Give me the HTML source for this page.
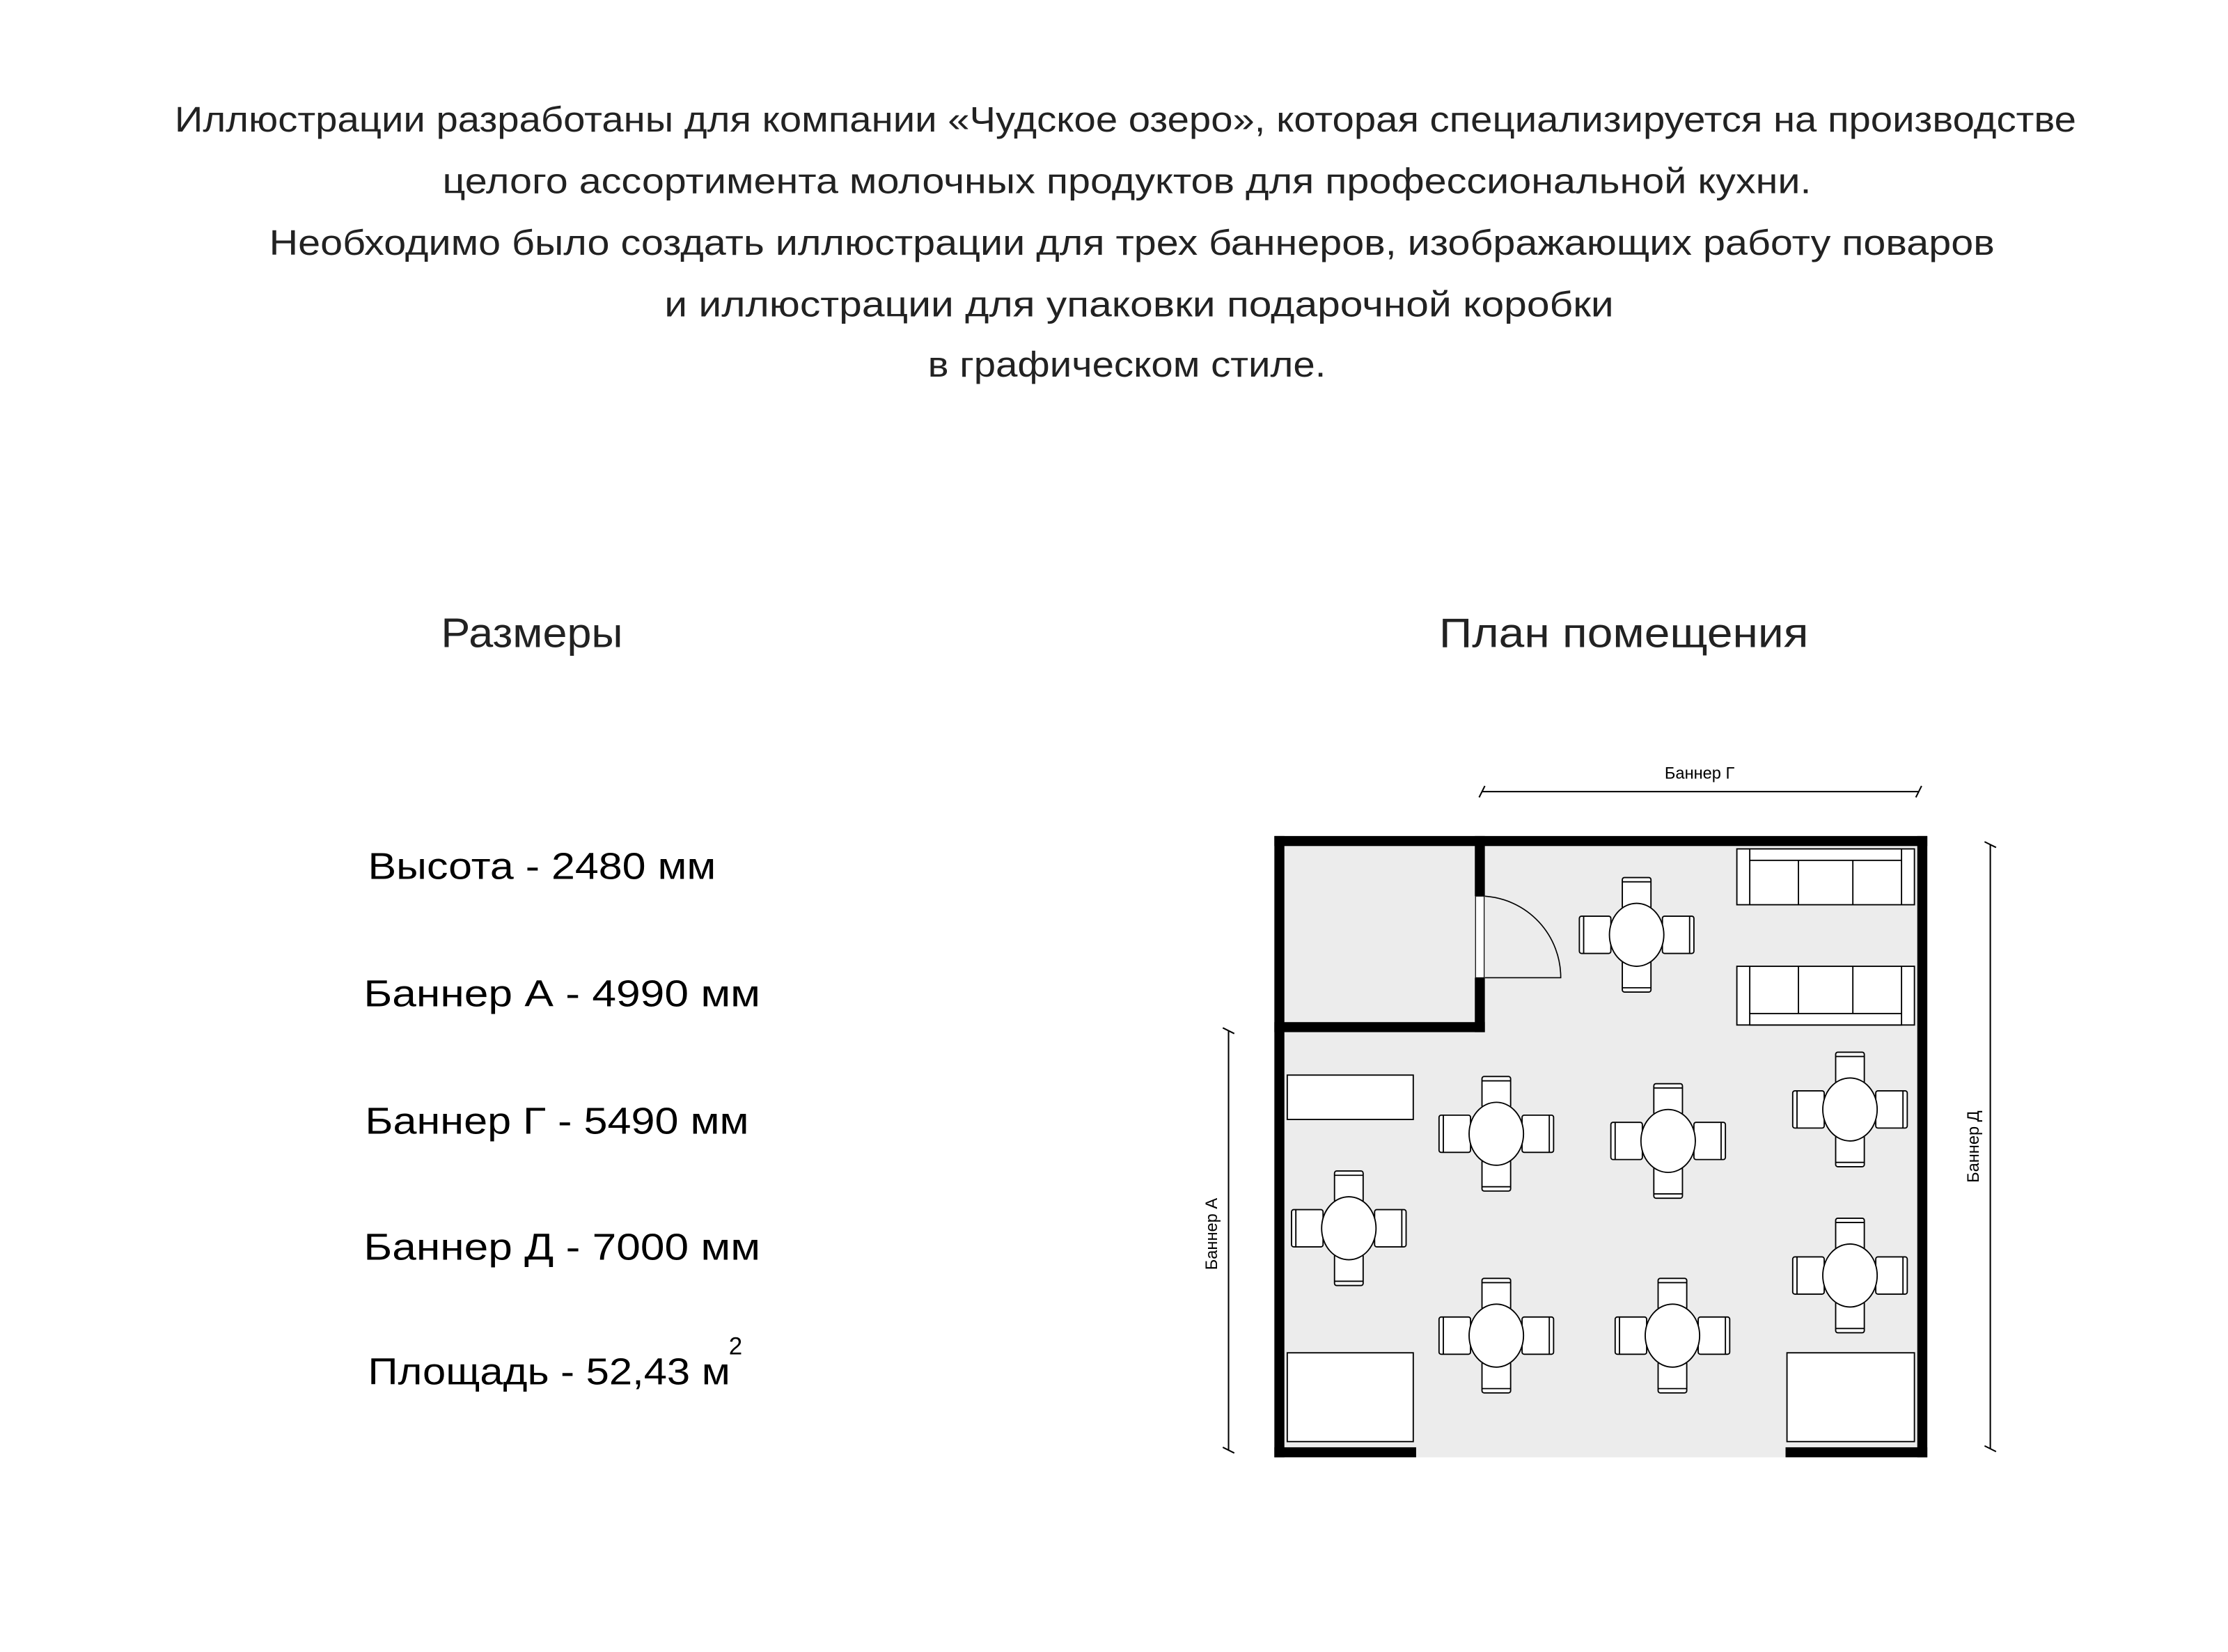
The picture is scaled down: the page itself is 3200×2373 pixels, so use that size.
<!DOCTYPE html>
<html><head><meta charset="utf-8"><style>html,body{margin:0;padding:0;background:#fff}svg{display:block}</style></head>
<body>
<svg width="3200" height="2373" viewBox="0 0 1556 1154" preserveAspectRatio="none" xmlns="http://www.w3.org/2000/svg" font-family="Liberation Sans, DejaVu Sans, sans-serif">
<rect width="1556" height="1154" fill="#fff"/>
<g fill="#222" font-size="25" text-anchor="start" lengthAdjust="spacingAndGlyphs">
<text x="122" y="92" textLength="1328" lengthAdjust="spacingAndGlyphs">Иллюстрации разработаны для компании «Чудское озеро», которая специализируется на производстве</text>
<text x="309" y="135" textLength="956" lengthAdjust="spacingAndGlyphs">целого ассортимента молочных продуктов для профессиональной кухни.</text>
<text x="188" y="178" textLength="1205" lengthAdjust="spacingAndGlyphs">Необходимо было создать иллюстрации для трех баннеров, изображающих работу поваров</text>
<text x="464" y="221" textLength="663" lengthAdjust="spacingAndGlyphs">и иллюстрации для упаковки подарочной коробки</text>
<text x="648" y="263" textLength="278" lengthAdjust="spacingAndGlyphs">в графическом стиле.</text>
</g>
<g fill="#222" font-size="29">
<text x="308" y="452" textLength="127" lengthAdjust="spacingAndGlyphs">Размеры</text>
<text x="1005" y="452" textLength="258" lengthAdjust="spacingAndGlyphs">План помещения</text>
</g>
<g fill="#000" font-size="26">
<text x="257" y="614" textLength="243" lengthAdjust="spacingAndGlyphs">Высота - 2480 мм</text>
<text x="254" y="703" textLength="277" lengthAdjust="spacingAndGlyphs">Баннер А - 4990 мм</text>
<text x="255" y="792" textLength="268" lengthAdjust="spacingAndGlyphs">Баннер Г - 5490 мм</text>
<text x="254" y="880" textLength="277" lengthAdjust="spacingAndGlyphs">Баннер Д - 7000 мм</text>
<text x="257" y="967" textLength="253" lengthAdjust="spacingAndGlyphs">Площадь - 52,43 м</text>
<text x="509" y="946" font-size="17">2</text>
</g>

<!-- floor -->
<rect x="890" y="584" width="456" height="434" fill="#ececec"/>
<!-- outer walls -->
<g fill="#000">
<rect x="890" y="584" width="456" height="7"/>
<rect x="890" y="584" width="7" height="434"/>
<rect x="1339" y="584" width="7" height="434"/>
<rect x="890" y="1011" width="99" height="7"/>
<rect x="1247" y="1011" width="99" height="7"/>
<rect x="1030" y="584" width="7" height="42"/>
<rect x="1030" y="683" width="7" height="38"/>
<rect x="890" y="714" width="147" height="7"/>
</g>
<!-- door -->
<rect x="1030.5" y="626" width="6" height="57" fill="#fff" stroke="#000" stroke-width="0.6"/>
<path d="M1037 626 A57 57 0 0 1 1090 683 L1037 683" fill="none" stroke="#000" stroke-width="0.8"/>
<!-- sofas -->
<g fill="#fff" stroke="#000" stroke-width="0.9">
<rect x="1213" y="593" width="124" height="39"/>
<rect x="1222" y="593" width="106" height="8"/>
<line x1="1222" y1="601" x2="1222" y2="632"/><line x1="1328" y1="601" x2="1328" y2="632"/>
<line x1="1256" y1="601" x2="1256" y2="632"/><line x1="1294" y1="601" x2="1294" y2="632"/>
<rect x="1213" y="675" width="124" height="41"/>
<rect x="1222" y="708" width="106" height="8"/>
<line x1="1222" y1="675" x2="1222" y2="708"/><line x1="1328" y1="675" x2="1328" y2="708"/>
<line x1="1256" y1="675" x2="1256" y2="708"/><line x1="1294" y1="675" x2="1294" y2="708"/>
<rect x="899" y="751" width="88" height="31"/>
<rect x="899" y="945" width="88" height="62"/>
<rect x="1248" y="945" width="89" height="62"/>
</g>
<defs>
<g id="t" fill="#fff" stroke="#000" stroke-width="0.9">
<rect x="-10" y="-40" width="20" height="22" rx="1.5"/><line x1="-10" y1="-37" x2="10" y2="-37"/>
<rect x="-10" y="18" width="20" height="22" rx="1.5"/><line x1="-10" y1="37" x2="10" y2="37"/>
<rect x="-40" y="-13" width="22" height="26" rx="1.5"/><line x1="-37" y1="-13" x2="-37" y2="13"/>
<rect x="18" y="-13" width="22" height="26" rx="1.5"/><line x1="37" y1="-13" x2="37" y2="13"/>
<ellipse cx="0" cy="0" rx="19" ry="22"/>
</g>
</defs>
<use href="#t" x="1143" y="653"/>
<use href="#t" x="1045" y="792"/>
<use href="#t" x="1165" y="797"/>
<use href="#t" x="1292" y="775"/>
<use href="#t" x="942" y="858"/>
<use href="#t" x="1292" y="891"/>
<use href="#t" x="1045" y="933"/>
<use href="#t" x="1168" y="933"/>
<!-- dimension lines -->
<g stroke="#000" stroke-width="1" fill="none">
<line x1="1035" y1="553" x2="1340" y2="553"/>
<line x1="1033" y1="557" x2="1037" y2="549"/><line x1="1338" y1="557" x2="1342" y2="549"/>
<line x1="858" y1="720" x2="858" y2="1013"/>
<line x1="854" y1="718" x2="862" y2="722"/><line x1="854" y1="1011" x2="862" y2="1015"/>
<line x1="1390" y1="590" x2="1390" y2="1012"/>
<line x1="1386" y1="588" x2="1394" y2="592"/><line x1="1386" y1="1010" x2="1394" y2="1014"/>
</g>
<g fill="#000" font-size="11.5">
<text x="1187" y="544" text-anchor="middle">Баннер Г</text>
<text transform="translate(850,862) rotate(-90)" text-anchor="middle">Баннер А</text>
<text transform="translate(1382,801) rotate(-90)" text-anchor="middle">Баннер Д</text>
</g>
</svg>
</body></html>
